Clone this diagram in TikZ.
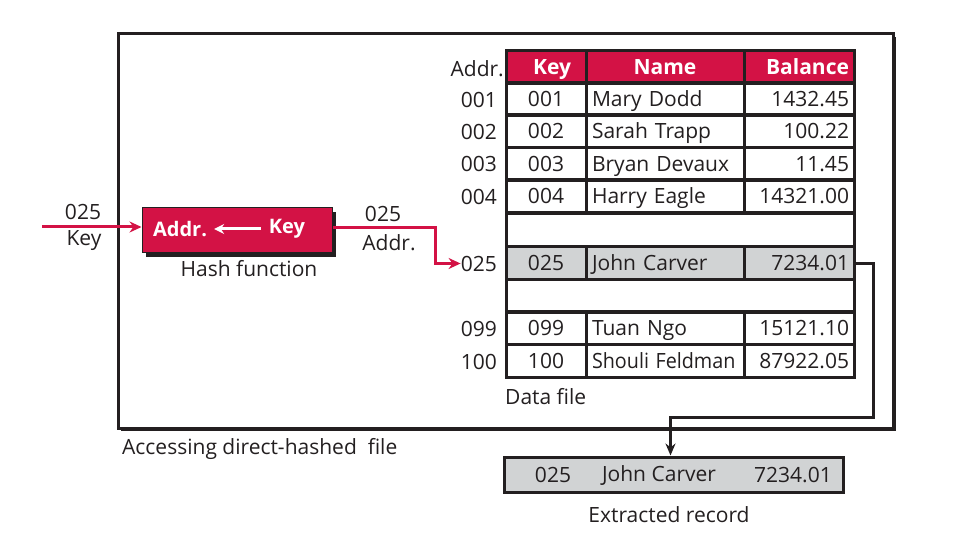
\documentclass[tikz,border=0pt]{standalone}
\usepackage{fontspec}
\usepackage{graphicx}
\setmainfont{Open Sans}
\usetikzlibrary{arrows.meta,shadows}
\definecolor{crim}{HTML}{D31245}
\definecolor{lgray}{HTML}{D1D3D4}
\definecolor{txt}{HTML}{231F20}
\begin{document}
\begin{tikzpicture}[x=1pt,y=-1pt,
  every node/.style={font=\fontsize{21}{24}\selectfont, inner sep=0pt, text=txt},
  cell/.style={draw=txt, line width=3pt, minimum height=33pt, inner ysep=0pt, text height=17pt, text depth=2pt},
  keycell/.style={cell, minimum width=80pt},
  namecell/.style={cell, text width=146pt, inner xsep=6pt, align=left},
  balcell/.style={cell, text width=100pt, inner xsep=5pt, align=right},
  hdr/.style={fill=crim, text=white, font=\fontsize{21}{24}\selectfont\bfseries},
  addrlbl/.style={anchor=east},
  redarrow/.style={draw=crim, line width=3pt, -{Stealth[length=12pt,width=11pt]}},
  blkarrow/.style={draw=txt, line width=3pt, -{Stealth[length=12pt,width=10pt]}}
]
\useasboundingbox (0,0) rectangle (959,537);
% outer frame
\node[draw=txt, line width=3pt, fill=white, minimum width=775pt, minimum height=394pt,
  drop shadow={shadow xshift=3pt, shadow yshift=-3pt, fill=txt, opacity=1}] (frame) at (505.5,231) {};
% header
\node[keycell, hdr] (hk) at (546,67.5) {\hspace*{12pt}Key};
\node[cell, hdr, minimum width=158pt] (hn) at (665,67.5) {Name};
\node[balcell, hdr] (hb) at (799,67.5) {Balance};
\node[addrlbl] (ha) at (504,69) {Addr.};
% rows
\foreach \n/\k/\nm/\b/\y in {r1/001/Mary Dodd/1432.45/99.5, r2/002/Sarah Trapp/100.22/131.5,
    r3/003/Bryan Devaux/11.45/164, r4/004/Harry Eagle/14321.00/196.5,
    r99/099/Tuan Ngo/15121.10/328.5, r100/100/{\scalebox{0.94}[1]{Shouli Feldman}}/87922.05/361.5} {
  \node[keycell] (\n k) at (546,\y) {\k};
  \node[namecell] (\n n) at (665,\y) {\mbox{\nm}};
  \node[balcell] (\n b) at (799,\y) {\b};
  \node[addrlbl] (\n a) at (497,\y) {\k};
}
\node[cell, minimum width=348pt] (e1) at (680,230) {};
\node[cell, minimum width=348pt] (e2) at (680,296) {};
\node[keycell, fill=lgray] (r25k) at (546,263.5) {025};
\node[namecell, fill=lgray] (r25n) at (665,263.5) {John Carver};
\node[balcell, fill=lgray] (r25b) at (799,263.5) {7234.01};
\node[addrlbl] (r25a) at (497,263.5) {025};
\node[anchor=west] (datalbl) at (505,397) {Data file};
% hash function
\node[draw=txt, line width=1pt, fill=crim, minimum width=190pt, minimum height=45pt,
  drop shadow={shadow xshift=4pt, shadow yshift=-4pt, fill=txt, opacity=1}] (hash) at (237,230.5) {};
\node[text=white, font=\fontsize{20}{24}\selectfont\bfseries] (hA) at (180,229) {Addr.};
\node[text=white, font=\fontsize{20}{24}\selectfont\bfseries] (hK) at (287,229) {Key};
\draw[draw=white, line width=3pt, -{Stealth[length=10pt,width=10pt]}] ([xshift=-8pt]hK.west) -- ([xshift=7pt]hA.east);
\node (hashlbl) at (249,269) {Hash function};
% input
\coordinate (inS) at (42,227);
\draw[redarrow] (inS) -- (inS -| hash.west);
\node (in025) at (83,212) {025};
\node (inkey) at (84,241) {Key};
% output
\coordinate (outB) at (435,228);
\draw[redarrow] (outB -| hash.east) -- (outB) |- (r25a.west);
\node (out025) at (383,214) {025};
\node (outaddr) at (389,243) {Addr.};
% caption
\node[anchor=west] (acclbl) at (122,449) {Accessing direct-hashed\ \ file};
% extracted record
\node[draw=txt, line width=3pt, fill=lgray, minimum width=339pt, minimum height=35pt] (rec) at (673.5,474.5) {};
\node (x1) at (553,475) {025};
\node (x2) at (659,475) {John Carver};
\node (x3) at (793,475) {7234.01};
\node (extlbl) at (669,515) {Extracted record};
\coordinate (c1) at (873,263.5);
\coordinate (c2) at (873,417);
\draw[blkarrow] (r25b.east) -- (c1) -- (c2) -| ([xshift=-3pt]rec.north);
\end{tikzpicture}
\end{document}
